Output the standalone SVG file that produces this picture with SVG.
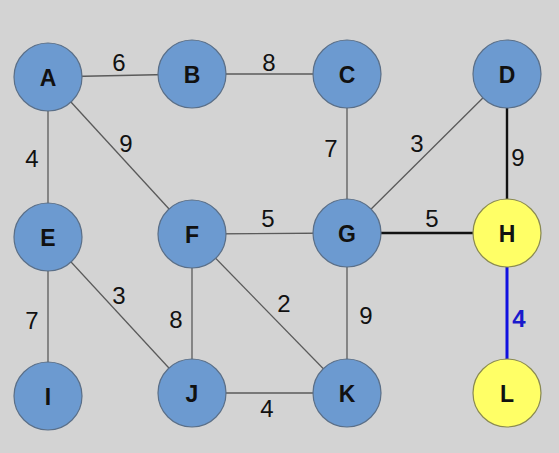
<svg xmlns="http://www.w3.org/2000/svg" width="559" height="453" viewBox="0 0 559 453">
  <style>
    .edge { stroke: #5a5a5a; stroke-width: 1.3; fill: none; }
    .edge.dark { stroke: #111; stroke-width: 2.4; }
    .edge.blue { stroke: #1010e0; stroke-width: 3; }
    .w { font-family: "Liberation Sans", Arial, sans-serif; font-size: 24px; fill: #111; text-anchor: middle; }
    .w.blue { fill: #1a1acc; font-weight: bold; }
    .node circle { fill: #6c9ad0; stroke: #5a6f88; stroke-width: 1.2; }
    .node.hl circle { fill: #ffff66; stroke: #8a8a50; }
    .node text { font-family: "Liberation Sans", Arial, sans-serif; font-size: 23px; font-weight: bold; fill: #111; text-anchor: middle; dominant-baseline: central; }
  </style>
  <rect width="559" height="453" fill="#d3d3d3"/>

  <g id="connectors">
    <line class="edge" x1="48" y1="77" x2="192" y2="74"/>
    <line class="edge" x1="192" y1="74" x2="347" y2="74"/>
    <line class="edge" x1="48" y1="77" x2="48" y2="237"/>
    <line class="edge" x1="48" y1="77" x2="192" y2="234"/>
    <line class="edge" x1="347" y1="74" x2="347" y2="233"/>
    <line class="edge" x1="507" y1="74" x2="347" y2="233"/>
    <line class="edge dark" x1="507" y1="74" x2="507" y2="233"/>
    <line class="edge" x1="192" y1="234" x2="347" y2="233"/>
    <line class="edge dark" x1="347" y1="233" x2="507" y2="233"/>
    <line class="edge" x1="48" y1="237" x2="48" y2="396"/>
    <line class="edge" x1="48" y1="237" x2="192" y2="393"/>
    <line class="edge" x1="192" y1="234" x2="192" y2="393"/>
    <line class="edge" x1="192" y1="234" x2="347" y2="393"/>
    <line class="edge" x1="347" y1="233" x2="347" y2="393"/>
    <line class="edge" x1="192" y1="393" x2="347" y2="393"/>
    <line class="edge blue" x1="507" y1="233" x2="507" y2="393"/>

    <text class="w" x="119" y="71">6</text>
    <text class="w" x="269" y="71">8</text>
    <text class="w" x="32" y="167">4</text>
    <text class="w" x="126" y="152">9</text>
    <text class="w" x="331" y="157">7</text>
    <text class="w" x="417" y="152">3</text>
    <text class="w" x="518" y="166">9</text>
    <text class="w" x="268" y="227">5</text>
    <text class="w" x="432" y="227">5</text>
    <text class="w" x="32" y="329">7</text>
    <text class="w" x="119" y="304">3</text>
    <text class="w" x="176" y="328">8</text>
    <text class="w" x="284" y="312">2</text>
    <text class="w" x="366" y="324">9</text>
    <text class="w" x="267" y="417">4</text>
    <text class="w blue" x="519" y="327">4</text>
  </g>

  <g id="node-A" class="node"><circle cx="48" cy="77" r="34"/><text x="48" y="78">A</text></g>
  <g id="node-B" class="node"><circle cx="192" cy="74" r="34"/><text x="192" y="75">B</text></g>
  <g id="node-C" class="node"><circle cx="347" cy="74" r="34"/><text x="347" y="75">C</text></g>
  <g id="node-D" class="node"><circle cx="507" cy="74" r="34"/><text x="507" y="75">D</text></g>
  <g id="node-E" class="node"><circle cx="48" cy="237" r="34"/><text x="48" y="238">E</text></g>
  <g id="node-F" class="node"><circle cx="192" cy="234" r="34"/><text x="192" y="235">F</text></g>
  <g id="node-G" class="node"><circle cx="347" cy="233" r="34"/><text x="347" y="234">G</text></g>
  <g id="node-H" class="node hl"><circle cx="507" cy="233" r="34"/><text x="507" y="234">H</text></g>
  <g id="node-I" class="node"><circle cx="48" cy="396" r="34"/><text x="48" y="397">I</text></g>
  <g id="node-J" class="node"><circle cx="192" cy="393" r="34"/><text x="192" y="394">J</text></g>
  <g id="node-K" class="node"><circle cx="347" cy="393" r="34"/><text x="347" y="394">K</text></g>
  <g id="node-L" class="node hl"><circle cx="507" cy="393" r="34"/><text x="507" y="394">L</text></g>
</svg>
